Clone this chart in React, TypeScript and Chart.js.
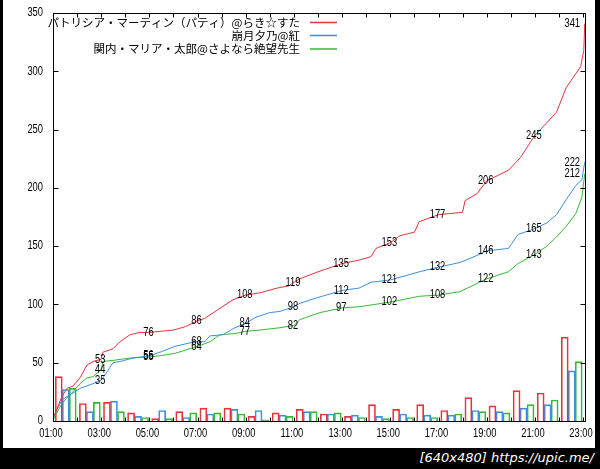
import React, { useEffect, useRef } from "react";
import { Chart, registerables } from "chart.js";

Chart.register(...registerables);

// ---- data ----
const seriesNames = [
  "パトリシア・マーティン（パティ）@らき☆すた",
  "崩月夕乃@紅",
  "関内・マリア・太郎@さよなら絶望先生",
];
const seriesColors = ["#e8323c", "#3d8fe0", "#35b935"];

const hourTicks = [1, 3, 5, 7, 9, 11, 13, 15, 17, 19, 21, 23];
const valueTicks = [0, 50, 100, 150, 200, 250, 300, 350];

const redHours = [1.0, 1.37, 1.58, 1.83, 2.12, 2.41, 2.66, 3.0, 3.07, 3.49, 3.78, 4.2, 4.61, 5.0, 5.5, 6.0, 6.5, 7.0, 7.3, 7.8, 8.47, 9.0, 9.6, 10.3, 10.8, 11.0, 11.25, 12.0, 13.0, 13.7, 14.2, 14.4, 15.0, 15.4, 16.0, 16.2, 17.0, 17.5, 18.0, 18.1, 18.6, 19.0, 19.5, 19.9, 20.4, 21.0, 21.5, 21.9, 22.3, 22.5, 22.9, 23.03, 23.07];
const redValues = [2, 21, 28, 30, 37, 48, 51, 53, 59, 62, 68, 74, 76, 76, 77, 78, 81, 86, 88, 95, 104, 108, 110, 114, 116, 119, 122, 128, 135, 138, 141, 148, 153, 159, 162, 171, 177, 178, 179, 189, 195, 206, 211, 215, 226, 245, 256, 265, 286, 292, 304, 318, 341];

const blueHours = [1.0, 1.37, 1.58, 1.83, 2.12, 2.66, 3.0, 3.24, 3.49, 3.78, 4.32, 5.0, 5.44, 6.06, 6.68, 7.0, 7.3, 7.51, 8.05, 8.55, 9.0, 9.42, 10.0, 10.42, 11.0, 11.25, 12.0, 13.0, 13.7, 14.2, 15.0, 16.2, 17.0, 17.9, 18.6, 19.0, 19.9, 20.3, 21.0, 21.5, 21.9, 22.3, 22.7, 22.95, 23.07];
const blueValues = [3, 18, 21, 24, 28, 32, 35, 42, 50, 51, 54, 56, 59, 64, 67, 68, 68, 73, 74, 80, 84, 89, 93, 94, 98, 101, 106, 112, 114, 119, 121, 128, 132, 136, 142, 146, 148, 160, 165, 170, 177, 190, 202, 207, 222];

const greenHours = [1.0, 1.37, 1.58, 1.83, 2.12, 2.41, 2.66, 3.0, 3.07, 3.49, 4.2, 5.0, 5.44, 6.06, 6.68, 7.0, 7.51, 7.93, 8.55, 9.0, 9.59, 10.42, 11.0, 11.25, 12.08, 13.0, 13.7, 15.0, 16.2, 17.0, 17.9, 18.6, 19.0, 19.9, 20.3, 21.0, 21.5, 21.9, 22.3, 22.7, 22.95, 23.07];
const greenValues = [1, 15, 20, 25, 32, 37, 38, 44, 51, 52, 54, 55, 56, 58, 62, 64, 68, 74, 75, 77, 78, 80, 82, 87, 93, 97, 98, 102, 107, 108, 111, 118, 122, 128, 135, 143, 150, 158, 167, 178, 192, 212];

const barHours = [1, 2, 3, 4, 5, 6, 7, 8, 9, 10, 11, 12, 13, 14, 15, 16, 17, 18, 19, 20, 21, 22];
const redBars = [38, 15, 16, 7, 2, 8, 11, 11, 4, 7, 10, 6, 4, 14, 10, 14, 9, 20, 13, 26, 24, 72];
const blueBars = [27, 8, 17, 4, 9, 3, 6, 10, 9, 5, 8, 6, 5, 4, 6, 5, 5, 9, 8, 11, 14, 43];
const greenBars = [28, 16, 8, 3, 2, 7, 7, 6, 1, 4, 8, 7, 3, 2, 3, 3, 6, 8, 7, 14, 18, 51];

const labelHours = [3, 5, 7, 9, 11, 13, 15, 17, 19, 21, 23];
const redLabels = [53, 76, 86, 108, 119, 135, 153, 177, 206, 245, 341];
const blueLabels = [35, 56, 68, 84, 98, 112, 121, 132, 146, 165, 222];
const greenLabels = [44, 55, 64, 77, 82, 97, 102, 108, 122, 143, 212];

const NUM_FONT = "'Liberation Sans', Arial, sans-serif";
const JP_FONT = "'Noto Sans CJK JP', sans-serif";
const SQUEEZE = 0.78;

const zip = (xs: number[], ys: number[]) => xs.map((x, i) => ({ x, y: ys[i] }));
const barOffsets = [0.24, 0.53, 0.82];
const hourText = (h: number) => (h < 10 ? "0" : "") + h + ":00";

function narrowText(ctx: any, text: string, x: number, y: number, align: string) {
  ctx.save();
  ctx.translate(x, y);
  ctx.scale(SQUEEZE, 1);
  ctx.textAlign = align;
  ctx.fillText(text, 0, 0);
  ctx.restore();
}

const overlayPlugin = {
  id: "overlay",
  beforeDraw(chart: any) {
    const { ctx, width, height } = chart;
    ctx.save();
    ctx.fillStyle = "#fff";
    ctx.fillRect(0, 0, width, height);
    ctx.restore();
  },
  afterDatasetsDraw(chart: any) {
    const { ctx, chartArea: a, scales } = chart;
    const x = scales.x;
    const y = scales.y;
    ctx.save();
    ctx.strokeStyle = "#000";
    ctx.lineWidth = 1;
    const L = Math.round(a.left) + 0.5;
    const R = Math.round(a.right) + 0.5;
    const T = Math.round(a.top) + 0.5;
    const B = Math.round(a.bottom) + 0.5;
    ctx.beginPath();
    ctx.rect(L, T, R - L, B - T);
    for (let h = 1; h <= 23; h++) {
      const px = Math.round(x.getPixelForValue(h)) + 0.5;
      ctx.moveTo(px, T);
      ctx.lineTo(px, T + 4);
      ctx.moveTo(px, B);
      ctx.lineTo(px, B - 4);
    }
    valueTicks.forEach((v) => {
      const py = Math.round(y.getPixelForValue(v)) + 0.5;
      ctx.moveTo(L, py);
      ctx.lineTo(L + 5, py);
      ctx.moveTo(R, py);
      ctx.lineTo(R - 5, py);
    });
    ctx.stroke();

    ctx.fillStyle = "#000";
    ctx.font = `12px ${NUM_FONT}`;
    ctx.textBaseline = "middle";

    // axis tick labels
    hourTicks.forEach((h) => {
      narrowText(ctx, hourText(h), x.getPixelForValue(h) - 2, a.bottom + 13, "center");
    });
    valueTicks.forEach((v) => {
      narrowText(ctx, String(v), a.left - 10, y.getPixelForValue(v), "right");
    });

    // value labels
    [redLabels, blueLabels, greenLabels].forEach((vals) => {
      vals.forEach((v, i) => {
        const px = x.getPixelForValue(labelHours[i]);
        const py = y.getPixelForValue(v);
        if (i === vals.length - 1) narrowText(ctx, String(v), px - 3, py, "right");
        else narrowText(ctx, String(v), px - 1, py, "center");
      });
    });

    // legend
    ctx.font = `11.5px ${JP_FONT}`;
    ctx.textAlign = "right";
    const legY = [22.5, 35.5, 49];
    seriesNames.forEach((name, i) => {
      ctx.fillStyle = "#000";
      ctx.fillText(name, 297, legY[i]);
      ctx.strokeStyle = seriesColors[i];
      ctx.lineWidth = 1.5;
      ctx.beginPath();
      ctx.moveTo(307, legY[i]);
      ctx.lineTo(334, legY[i]);
      ctx.stroke();
    });
    ctx.restore();
  },
};

export default function App() {
  const ref = useRef<HTMLCanvasElement | null>(null);

  useEffect(() => {
    if (!ref.current) return;
    const lineSets = [
      zip(redHours, redValues),
      zip(blueHours, blueValues),
      zip(greenHours, greenValues),
    ];
    const barSets = [redBars, blueBars, greenBars];

    const datasets: any[] = [];
    lineSets.forEach((data, i) => {
      datasets.push({
        type: "line",
        label: seriesNames[i],
        data,
        borderColor: seriesColors[i],
        borderWidth: 1,
        pointRadius: 0,
        tension: 0,
        fill: false,
        order: 1,
      });
    });
    barSets.forEach((vals, i) => {
      datasets.push({
        type: "bar",
        label: seriesNames[i] + " bars",
        data: barHours.map((h, k) => ({ x: h + barOffsets[i], y: vals[k] })),
        borderColor: seriesColors[i],
        backgroundColor: "rgba(255,255,255,0)",
        borderWidth: 1,
        barThickness: 7,
        grouped: false,
        order: 2,
      });
    });

    const chart = new Chart(ref.current, {
      type: "line",
      data: { datasets },
      options: {
        animation: false,
        responsive: false,
        devicePixelRatio: 1,
        layout: { padding: { top: 13, right: 10, left: 0, bottom: 0 } },
        plugins: {
          legend: { display: false },
          tooltip: { enabled: false },
        },
        scales: {
          x: {
            type: "linear",
            min: 1,
            max: 23.08,
            offset: false,
            grid: { display: false, drawTicks: false, offset: false },
            border: { display: false },
            afterBuildTicks: (ax: any) => {
              ax.ticks = hourTicks.map((v) => ({ value: v }));
            },
            afterFit: (s: any) => {
              s.height = 27;
              s.paddingLeft = 0;
              s.paddingRight = 0;
            },
            ticks: { display: false },
          },
          y: {
            min: 0,
            max: 350,
            grid: { display: false, drawTicks: false },
            border: { display: false },
            afterBuildTicks: (ax: any) => {
              ax.ticks = valueTicks.map((v) => ({ value: v }));
            },
            afterFit: (s: any) => {
              s.width = 50;
              s.paddingTop = 0;
              s.paddingBottom = 0;
            },
            ticks: { display: false },
          },
        },
      } as any,
      plugins: [overlayPlugin],
    });
    return () => chart.destroy();
  }, []);

  return (
    <div
      style={{
        position: "fixed",
        left: 0,
        top: 0,
        width: 600,
        height: 469,
        background: "#000",
        overflow: "hidden",
      }}
    >
      <canvas
        ref={ref}
        width={592}
        height={448}
        style={{ position: "absolute", left: 3, top: 0, width: 592, height: 448 }}
      />
      <div
        style={{
          position: "absolute",
          right: 6,
          top: 450,
          color: "#fff",
          fontFamily: "'DejaVu Sans', sans-serif",
          fontSize: 13,
          whiteSpace: "nowrap",
          fontStyle: "italic",
        }}
      >
        [640x480] https://upic.me/
      </div>
    </div>
  );
}
